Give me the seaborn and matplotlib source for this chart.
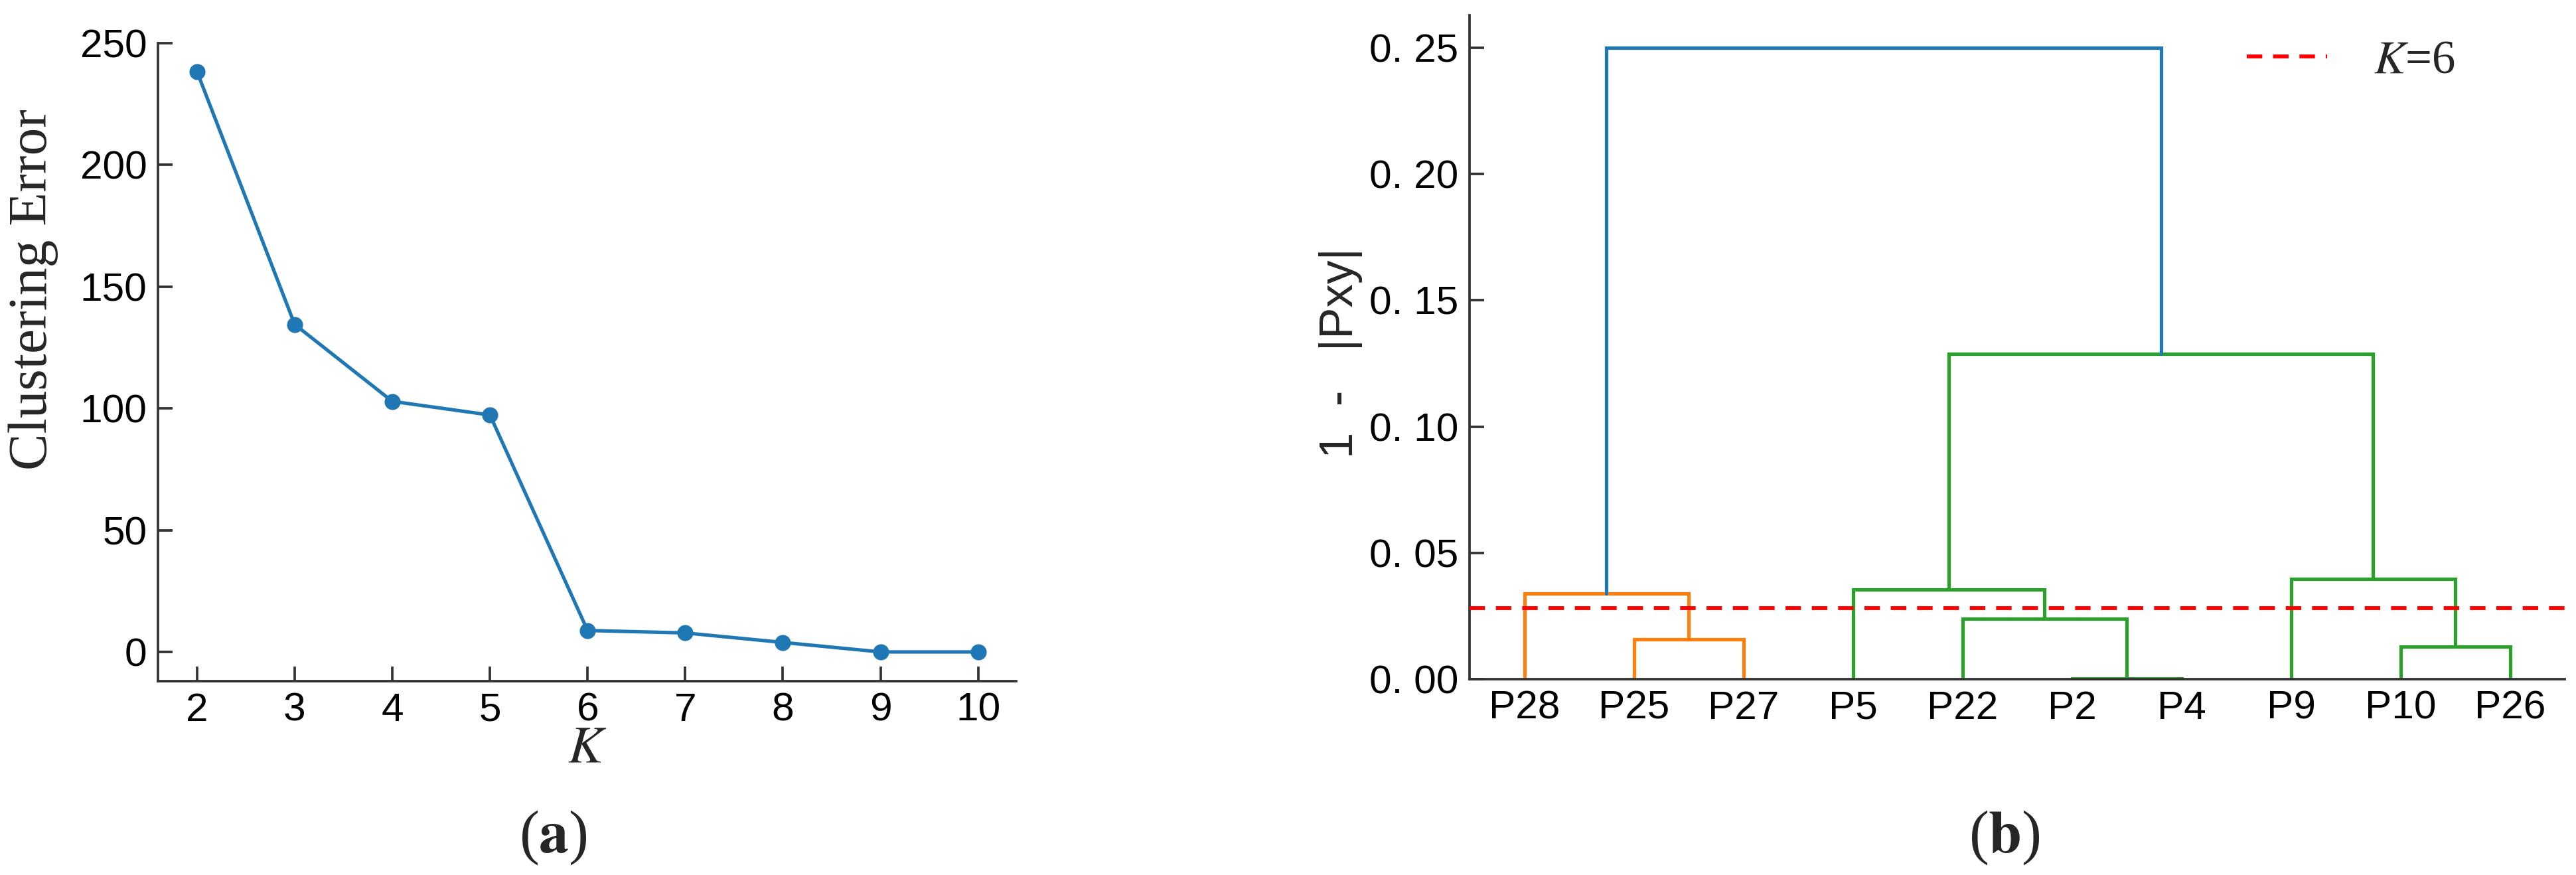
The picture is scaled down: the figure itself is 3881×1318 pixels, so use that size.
import numpy as np
import pandas as pd
import matplotlib
matplotlib.use("Agg")
import matplotlib.pyplot as plt
from matplotlib import font_manager as fm
import seaborn as sns

# ---------------- data ----------------
k_values = [2, 3, 4, 5, 6, 7, 8, 9, 10]
clustering_error = [238.3, 134.5, 102.9, 97.3, 8.8, 7.8, 3.9, 0.0, 0.0]
err_yticks = [0, 50, 100, 150, 200, 250]

leaf_labels = ["P28", "P25", "P27", "P5", "P22", "P2", "P4", "P9", "P10", "P26"]
# scipy-style merges: ids < 10 are leaves, id 10+i is merge i
merge_left = [5, 8, 1, 4, 0, 3, 7, 15, 14]
merge_right = [6, 9, 2, 10, 12, 13, 11, 16, 17]
merge_height = [0.0003, 0.0128, 0.0157, 0.0238, 0.0340, 0.0355, 0.0397, 0.1289, 0.2500]
merge_group = ["g", "g", "o", "g", "o", "g", "g", "g", "top"]
cut_height = 0.028
dist_yticks = [0.00, 0.05, 0.10, 0.15, 0.20, 0.25]

# ---------------- style ----------------
sns.set_theme(style="ticks")


def has_font(name):
    try:
        fm.findfont(fm.FontProperties(family=name), fallback_to_default=False)
        return True
    except Exception:
        return False


tick_font = "Liberation Sans Narrow" if has_font("Liberation Sans Narrow") else "Liberation Sans"
plt.rcParams["font.family"] = ["Liberation Sans", "DejaVu Sans"]
plt.rcParams["mathtext.fontset"] = "stix"

group_colors = {"o": "#ff7f0e", "g": "#2ca02c", "top": "#1f77b4"}
spine_col = "#333333"

W, H, DPI = 3881, 1318, 300
fig = plt.figure(figsize=(W / DPI, H / DPI), dpi=DPI)


def px_axes(x0, x1, ytop, ybot):
    return fig.add_axes([x0 / W, 1 - ybot / H, (x1 - x0) / W, (ybot - ytop) / H])


# ---------------- panel (a) ----------------
ax1 = px_axes(238, 1531, 65, 1026)
df = pd.DataFrame({"K": k_values, "err": clustering_error})
sns.lineplot(data=df, x="K", y="err", ax=ax1, color="#1f77b4", linewidth=1.25,
             marker="o", markersize=5.8, markeredgewidth=0)
ax1.set_xlim(1.6, 10.39)
ax1.set_ylim(-12, 250)
ax1.set_xticks(k_values)
ax1.set_yticks(err_yticks)
ax1.set_xticklabels([str(k) for k in k_values], family=tick_font, fontsize=14.5)
ax1.set_yticklabels([str(v) for v in err_yticks], family=tick_font, fontsize=14.5)
ax1.set_ylabel("Clustering Error", family="Liberation Serif", fontsize=20)
ax1.yaxis.label.set_va("center")
ax1.yaxis.set_label_coords(-0.1454, 0.614)
ax1.set_xlabel("$K$", fontsize=19)
ax1.xaxis.label.set_va("center")
ax1.xaxis.set_label_coords(0.5004, -0.106)

# ---------------- panel (b) ----------------
ax2 = px_axes(2214, 3864, 23, 1023)
n = len(leaf_labels)
node_x = [5 + 10 * i for i in range(n)]
node_y = [0.0] * n
for l, r, h, g in zip(merge_left, merge_right, merge_height, merge_group):
    xl, xr = node_x[l], node_x[r]
    yl, yr = node_y[l], node_y[r]
    ax2.plot([xl, xl, xr, xr], [yl, h, h, yr], color=group_colors[g], lw=1.25,
             solid_joinstyle="miter")
    node_x.append((xl + xr) / 2)
    node_y.append(h)

ax2.axhline(cut_height, color="#ff0000", lw=1.4, ls=(0, (4.0, 2.8)), zorder=4,
            label="$K$=6")
ax2.set_xlim(0, 10 * n)
ax2.set_ylim(0, 0.2629)
ax2.set_xticks(node_x[:n])
ax2.set_xticklabels(leaf_labels, family=tick_font, fontsize=14.5)
ax2.set_yticks(dist_yticks)
ax2.set_yticklabels([f"{v:.2f}".replace(".", ". ") for v in dist_yticks],
                    family=tick_font, fontsize=14.5)
ax2.set_ylabel("1  -   |Pxy|", family="Liberation Sans", fontsize=17)
ax2.yaxis.label.set_va("center")
ax2.yaxis.set_label_coords(-0.1176, 0.491)
leg = ax2.legend(loc="center left", bbox_to_anchor=(0.7097, 0.931), frameon=False,
                 borderpad=0, borderaxespad=0, handlelength=1.71, handletextpad=0.99,
                 prop={"family": "Liberation Serif", "size": 17})

# ---------------- common axes styling ----------------
for ax in (ax1, ax2):
    sns.despine(ax=ax)
    for s in ("left", "bottom"):
        ax.spines[s].set_color(spine_col)
        ax.spines[s].set_linewidth(0.9)
    ax.tick_params(axis="both", direction="in", length=5.3, width=0.9,
                   color=spine_col, labelcolor="black", pad=4)
    ax.grid(False)
ax2.tick_params(axis="x", length=0, pad=4)

# panel labels
fig.text(833 / W, 1 - 1262 / H, r"($\mathbf{a}$)", family="Liberation Serif",
         fontsize=21.5, ha="center", va="center")
fig.text(3020 / W, 1 - 1262 / H, r"($\mathbf{b}$)", family="Liberation Serif",
         fontsize=21.5, ha="center", va="center")

fig.savefig("out.png", dpi=DPI)
